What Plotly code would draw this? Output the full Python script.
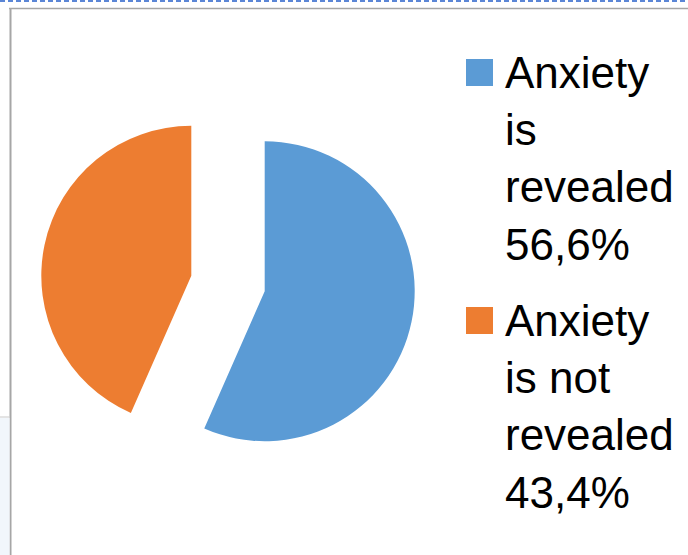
import plotly.graph_objects as go

labels = ["Anxiety is revealed", "Anxiety is not revealed"]
legend_texts = ["Anxiety<br>is<br>revealed<br>56,6%", "Anxiety<br>is not<br>revealed<br>43,4%"]
values = [56.6, 43.4]
colors = ["#5B9BD5", "#ED7D31"]

W, H = 688, 555

def px(x):
    return x / W

def py(y):
    return 1 - y / H

fig = go.Figure()
fig.add_trace(go.Pie(
    labels=labels,
    values=values,
    sort=False,
    direction="clockwise",
    rotation=0,
    pull=[0.25, 0.25],
    marker=dict(colors=colors, line=dict(width=0)),
    textinfo="none",
    hoverinfo="label+percent",
    showlegend=False,
    domain=dict(x=[px(40.5), px(415.5)], y=[py(471), py(96)]),
))

shapes = []
# frame lines (screenshot borders)
shapes.append(dict(type="line", xref="paper", yref="paper", x0=0, x1=1, y0=py(1), y1=py(1),
                   line=dict(color="#5B86D6", width=2, dash="5px,3px")))
shapes.append(dict(type="line", xref="paper", yref="paper", x0=px(9), x1=1, y0=py(8.5), y1=py(8.5),
                   line=dict(color="#A6A6A6", width=1.5)))
shapes.append(dict(type="line", xref="paper", yref="paper", x0=px(10.5), x1=px(10.5), y0=0, y1=py(8),
                   line=dict(color="#A6A6A6", width=2)))
shapes.append(dict(type="rect", xref="paper", yref="paper", x0=0, x1=px(9.5), y0=0, y1=py(418),
                   line=dict(width=0), fillcolor="#F1F6FB"))
shapes.append(dict(type="line", xref="paper", yref="paper", x0=0, x1=px(9.5), y0=py(417), y1=py(417),
                   line=dict(color="#C8C8C8", width=1)))

# custom legend
sq_tops = [59, 307]
annotations = []
for i in range(2):
    t = sq_tops[i]
    shapes.append(dict(type="rect", xref="paper", yref="paper",
                       x0=px(466), x1=px(493), y0=py(t + 27), y1=py(t),
                       line=dict(width=0), fillcolor=colors[i]))
    annotations.append(dict(
        xref="paper", yref="paper", x=px(503), y=py(t - 13),
        xanchor="left", yanchor="top", showarrow=False, align="left",
        text=legend_texts[i],
        font=dict(family="Liberation Sans, Arial, sans-serif", size=44, color="#000000"),
    ))

fig.update_layout(
    width=W, height=H,
    margin=dict(l=0, r=0, t=0, b=0),
    paper_bgcolor="white",
    plot_bgcolor="white",
    shapes=shapes,
    annotations=annotations,
    showlegend=False,
)

fig.write_html("out.html")
